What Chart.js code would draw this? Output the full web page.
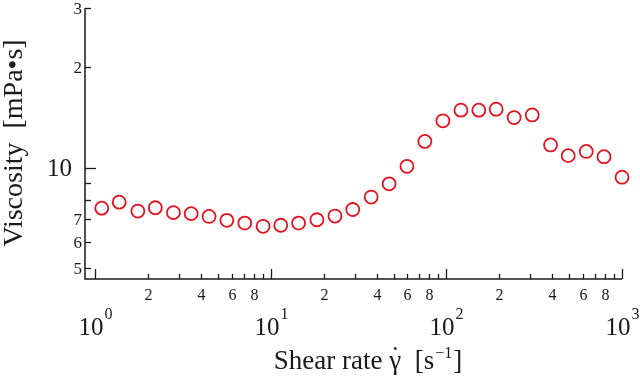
<!DOCTYPE html>
<html>
<head>
<meta charset="utf-8">
<script src="https://cdn.jsdelivr.net/npm/chart.js@4.4.1/dist/chart.umd.min.js"></script>
<style>
  html, body { margin: 0; padding: 0; background: #fff; }
  #wrap { width: 640px; height: 386px; }
</style>
</head>
<body>
<div id="wrap"><canvas id="chart" width="640" height="386"></canvas></div>
<script>
// Datos (viscosidad frente a velocidad de cizalla)
const shearRate = [1.09, 1.37, 1.75, 2.2, 2.79, 3.52, 4.45, 5.62, 7.11, 9.04,
    11.4, 14.4, 18.3, 23.2, 29.3, 37.3, 47.2, 59.6, 75.4, 95.5,
    121, 153, 192, 243, 308, 392, 494, 626, 790, 1000];
const viscosity = [7.56, 7.88, 7.41, 7.58, 7.33, 7.28, 7.14, 6.95, 6.82, 6.67,
    6.72, 6.82, 6.98, 7.16, 7.49, 8.16, 8.94, 10.09, 11.98, 13.81,
    14.86, 14.86, 14.96, 14.12, 14.38, 11.69, 10.86, 11.18, 10.78, 9.36];

// Marcas de los ejes
const xDecades = [1, 10, 100, 1000];
const xDecadeExponents = ['0', '1', '2', '3'];
const xMinorSteps = [2, 3, 4, 5, 6, 7, 8, 9];
const xMinorLabels = ['2', '', '4', '', '6', '', '8', ''];
const yTicks = [5, 6, 7, 8, 9, 10, 20, 30];
const yTickLabels = ['5', '6', '7', '', '', '10', '2', '3'];
const yMajorTicks = [10];

const FONT = '"Liberation Serif", "Times New Roman", serif';
const INK = '#1a1a1a';

// Plugin que dibuja ejes, marcas hacia dentro, etiquetas y titulos
const ejesPlugin = {
    id: 'ejes',
    afterDraw(chart) {
        const ctx = chart.ctx;
        const area = chart.chartArea;
        const xs = chart.scales.x;
        const ys = chart.scales.y;

        ctx.save();
        ctx.strokeStyle = INK;
        ctx.fillStyle = INK;

        // lineas de los ejes
        ctx.lineWidth = 1.5;
        ctx.beginPath();
        ctx.moveTo(area.left, area.top);
        ctx.lineTo(area.left, area.bottom);
        ctx.lineTo(area.right, area.bottom);
        ctx.stroke();

        ctx.lineWidth = 1.3;
        // eje x: decadas
        xDecades.forEach((d, i) => {
            const px = Math.round(xs.getPixelForValue(d)) + 0.5;
            ctx.beginPath();
            ctx.moveTo(px, area.bottom);
            ctx.lineTo(px, area.bottom - 10);
            ctx.stroke();

            // etiqueta 10^n
            ctx.font = '25px ' + FONT;
            const wBase = ctx.measureText('10').width;
            ctx.font = '16px ' + FONT;
            const wSup = ctx.measureText(xDecadeExponents[i]).width;
            const x0 = px - (wBase + wSup + 1) / 2;
            ctx.textAlign = 'left';
            ctx.textBaseline = 'alphabetic';
            ctx.font = '25px ' + FONT;
            ctx.fillText('10', x0, 335);
            ctx.font = '16px ' + FONT;
            ctx.fillText(xDecadeExponents[i], x0 + wBase + 1, 319);

            // subdivisiones
            if (i < xDecades.length - 1) {
                xMinorSteps.forEach((m, j) => {
                    const v = d * m;
                    const mx = Math.round(xs.getPixelForValue(v)) + 0.5;
                    ctx.beginPath();
                    ctx.moveTo(mx, area.bottom);
                    ctx.lineTo(mx, area.bottom - 5);
                    ctx.stroke();
                    if (xMinorLabels[j]) {
                        ctx.font = '16px ' + FONT;
                        ctx.textAlign = 'center';
                        ctx.textBaseline = 'middle';
                        ctx.fillText(xMinorLabels[j], mx, 296);
                    }
                });
            }
        });

        // eje y
        yTicks.forEach((v, i) => {
            const py = Math.round(ys.getPixelForValue(v)) + 0.5;
            const major = yMajorTicks.includes(v);
            ctx.beginPath();
            ctx.moveTo(area.left, py);
            ctx.lineTo(area.left + (major ? 11 : 6), py);
            ctx.stroke();
            const lab = yTickLabels[i];
            if (lab) {
                ctx.textAlign = 'right';
                ctx.textBaseline = 'middle';
                if (lab.length > 1) {
                    ctx.font = '25px ' + FONT;
                    ctx.fillText(lab, area.left - 13, py + 1);
                } else {
                    ctx.font = '17px ' + FONT;
                    ctx.fillText(lab, area.left - 3, py + 1);
                }
            }
        });

        // titulo eje y
        ctx.save();
        ctx.translate(22, 143);
        ctx.rotate(-Math.PI / 2);
        ctx.font = '28px ' + FONT;
        ctx.textAlign = 'center';
        ctx.textBaseline = 'alphabetic';
        ctx.fillText('Viscosity  [mPa\u2022s]', 0, 0);
        ctx.restore();

        // titulo eje x: Shear rate γ̇  [s⁻¹]
        const base = 369;
        ctx.textAlign = 'left';
        ctx.textBaseline = 'alphabetic';
        ctx.font = '27px ' + FONT;
        const p1 = 'Shear rate ';
        const p2 = '\u03B3';
        const p3 = '  [s';
        const p5 = ']';
        const w1 = ctx.measureText(p1).width;
        const w2 = ctx.measureText(p2).width;
        const w3 = ctx.measureText(p3).width;
        const w5 = ctx.measureText(p5).width;
        ctx.font = '16px ' + FONT;
        const p4 = '\u22121';
        const w4 = ctx.measureText(p4).width;
        const total = w1 + w2 + w3 + w4 + w5 + 2;
        let x = 368 - total / 2;
        ctx.font = '27px ' + FONT;
        ctx.fillText(p1, x, base); x += w1;
        ctx.fillText(p2, x, base);
        ctx.textAlign = 'center';
        ctx.fillText('\u02D9', x + w2 / 2, base - 4);
        ctx.textAlign = 'left';
        x += w2;
        ctx.fillText(p3, x, base); x += w3 + 1;
        ctx.font = '16px ' + FONT;
        ctx.fillText(p4, x, base - 11); x += w4 + 1;
        ctx.font = '27px ' + FONT;
        ctx.fillText(p5, x, base);

        ctx.restore();
    }
};

new Chart(document.getElementById('chart'), {
    type: 'scatter',
    data: {
        datasets: [{
            data: shearRate.map((s, i) => ({ x: s, y: viscosity[i] })),
            pointStyle: 'circle',
            pointRadius: 6.5,
            pointBorderWidth: 1.8,
            pointBorderColor: '#e3141f',
            pointBackgroundColor: 'rgba(255,255,255,0)',
            showLine: false,
            clip: false
        }]
    },
    options: {
        responsive: false,
        animation: false,
        devicePixelRatio: 1,
        layout: { padding: { left: 85, right: 18, top: 7, bottom: 107 } },
        plugins: {
            legend: { display: false },
            tooltip: { enabled: false }
        },
        scales: {
            x: { type: 'logarithmic', min: 0.875, max: 1000, display: false },
            y: { type: 'logarithmic', min: 4.638, max: 30, display: false }
        }
    },
    plugins: [ejesPlugin]
});
</script>
</body>
</html>
